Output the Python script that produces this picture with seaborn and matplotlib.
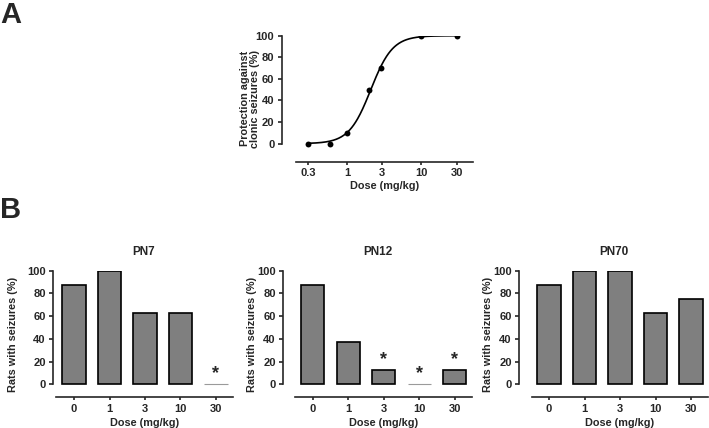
import numpy as np
import pandas as pd
import matplotlib
matplotlib.use('Agg')
import matplotlib.pyplot as plt
import seaborn as sns

sns.set_style('ticks')
plt.rcParams['font.family'] = ['Liberation Sans', 'DejaVu Sans']
plt.rcParams['font.weight'] = 'bold'
plt.rcParams['axes.labelweight'] = 'bold'
plt.rcParams['axes.titleweight'] = 'bold'

# panel A: dose-response
dose_a = [0.3, 0.6, 1, 2, 2.85, 10, 30]
protect_a = [0, 0, 10, 50, 70, 100, 100]
ec50 = 2.1
hill = 2.95
ticks_a = [0.3, 1, 3, 10, 30]
tick_labels_a = ['0.3', '1', '3', '10', '30']

# panel B: bars
doses_b = ['0', '1', '3', '10', '30']
pn7 = [87.5, 100, 62.5, 62.5, 0]
pn12 = [87.5, 37.5, 12.5, 0, 12.5]
pn70 = [87.5, 100, 100, 62.5, 75]
stars_pn7 = ['', '', '', '', '*']
stars_pn12 = ['', '', '*', '*', '*']
stars_pn70 = ['', '', '', '', '']

W, H = 709, 428
fig = plt.figure(figsize=(W / 100, H / 100), dpi=100)


def add_ax(left, right, top, bottom):
    return fig.add_axes([left / W, 1 - bottom / H, (right - left) / W, (bottom - top) / H])


FS = 7.8
TFS = 8.0
LW = 1.2


def style_axes(ax):
    for s in ['top', 'right']:
        ax.spines[s].set_visible(False)
    for s in ['left', 'bottom']:
        ax.spines[s].set_linewidth(LW)
    ax.tick_params(width=LW, length=3, labelsize=TFS, pad=2.5)
    ax.tick_params(axis='x', length=2, pad=2.5)
    for lab in ax.get_xticklabels() + ax.get_yticklabels():
        lab.set_fontweight('bold')


# ---- A ----
ax = add_ax(282, 473, 35.7, 162)
xs = np.logspace(np.log10(0.3), np.log10(30), 300)
curve = pd.DataFrame({'x': xs, 'y': 100 / (1 + (ec50 / xs) ** hill)})
sns.lineplot(data=curve, x='x', y='y', color='black', lw=1.2, ax=ax)
sns.scatterplot(x=dose_a, y=protect_a, color='black', s=18, edgecolor='black', linewidth=0, ax=ax, zorder=3)
ax.set_xscale('log')
ax.set_xlim(0.134, 49.9)
ax.set_ylim(-17, 100)
ax.set_xticks(ticks_a)
ax.set_xticklabels(tick_labels_a)
ax.xaxis.set_minor_locator(matplotlib.ticker.NullLocator())
ax.set_yticks([0, 20, 40, 60, 80, 100])
ax.spines['left'].set_bounds(0, 100)
ax.spines['bottom'].set_bounds(0.207, 49.9)
ax.set_xlabel('Dose (mg/kg)', fontsize=FS)
ax.set_ylabel('Protection against\nclonic seizures (%)', fontsize=FS, linespacing=1.0)
ax.xaxis.set_label_coords(0.537, -0.15)
ax.yaxis.set_label_coords(-0.115, 0.5)
style_axes(ax)

fig.text(0 / W, 1 - 1 / H, 'A', fontsize=21, fontweight='bold', va='top', ha='left')
fig.text(0 / W, 1 - 196 / H, 'B', fontsize=21, fontweight='bold', va='top', ha='left')

# ---- B ----
panels = [
    ('PN7', pn7, stars_pn7, 53.3, 233, 74, -0.198),
    ('PN12', pn12, stars_pn12, 283.3, 471.7, 312.7, -0.141),
    ('PN70', pn70, stars_pn70, 519.3, 708, 549, -0.138),
]
step = 35.5
for title, vals, stars, left, right, c0, ylab_x in panels:
    ax = add_ax(left, right, 270.7, 397.3)
    df = pd.DataFrame({'dose': doses_b, 'val': vals})
    sns.barplot(data=df, x='dose', y='val', color='#7f7f7f', saturation=1,
                width=0.65, edgecolor='black', linewidth=1.2, ax=ax)
    for patch, v in zip(ax.patches, vals):
        if v == 0:
            patch.set_edgecolor('#9a9a9a')
            patch.set_linewidth(0.8)
    for i, (v, st) in enumerate(zip(vals, stars)):
        if st:
            ax.text(i, v + 2, st, ha='center', va='bottom', fontsize=13, fontweight='bold')
    xl = (left - c0) / step
    xr = (right - c0) / step
    ax.set_xlim(xl, xr)
    ax.set_ylim(-11.4, 100)
    ax.set_yticks([0, 20, 40, 60, 80, 100])
    ax.spines['left'].set_bounds(0, 100)
    xs0 = -0.507 if title == 'PN7' else -0.49
    ax.spines['bottom'].set_bounds(xs0, xr)
    ax.set_xlabel('Dose (mg/kg)', fontsize=FS)
    ax.set_ylabel('Rats with seizures (%)', fontsize=FS)
    spine_mid = ((xs0 + xr) / 2 - xl) / (xr - xl)
    ax.xaxis.set_label_coords(spine_mid, -0.16)
    ax.yaxis.set_label_coords(ylab_x, 0.5)
    ax.set_title(title, fontsize=8.5, pad=11)
    style_axes(ax)

fig.savefig('out.png', dpi=100)
